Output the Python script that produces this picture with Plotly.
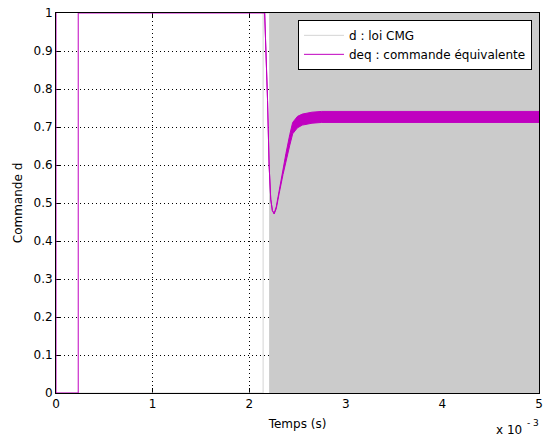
import plotly.graph_objects as go

# ---- data (time in ms, i.e. x 10^-3 s) ----
# d : loi CMG (before switching)
d_t = [0.0, 2.144, 2.144, 2.206]
d_v = [0.0, 0.0, 1.0, 1.0]
# d switching region (envelope of the fast 0/1 switching)
d_band_t = [2.206, 5.0]
d_band_low = [0.0, 0.0]
d_band_high = [1.0, 1.0]

# deq : commande équivalente (start)
deq_t = [0.0, 0.0, 0.23, 0.23, 2.16]
deq_v = [1.0, 0.0, 0.0, 1.0, 1.0]
# deq ripple envelope after 2.16 ms
env_up_t = [2.16, 2.175, 2.19, 2.206, 2.223, 2.24, 2.258, 2.28, 2.31, 2.35, 2.38, 2.42, 2.45, 2.50, 2.55, 2.65, 2.75, 3.5, 5.0]
env_up = [1.0, 0.90, 0.77, 0.60, 0.51, 0.48, 0.473, 0.49, 0.535, 0.59, 0.63, 0.68, 0.712, 0.728, 0.734, 0.739, 0.741, 0.741, 0.741]
env_lo_t = [2.16, 2.175, 2.19, 2.206, 2.223, 2.24, 2.258, 2.28, 2.31, 2.35, 2.38, 2.42, 2.45, 2.50, 2.55, 2.65, 2.75, 3.5, 5.0]
env_lo = [1.0, 0.90, 0.77, 0.60, 0.51, 0.48, 0.471, 0.485, 0.525, 0.575, 0.612, 0.652, 0.682, 0.698, 0.705, 0.710, 0.712, 0.712, 0.712]

x_ticks = [0, 1, 2, 3, 4, 5]
y_ticks = [0, 0.1, 0.2, 0.3, 0.4, 0.5, 0.6, 0.7, 0.8, 0.9, 1]

GRAY = "#cbcbcb"
MAG = "#c000c0"
FONT = "DejaVu Sans, Liberation Sans, Arial, sans-serif"

fig = go.Figure()

# d line
fig.add_trace(go.Scatter(x=d_t, y=d_v, mode="lines", name="d : loi CMG",
                         line=dict(color="#d4d4d4", width=1)))
# d switching band
fig.add_trace(go.Scatter(x=d_band_t, y=d_band_low, mode="lines",
                         line=dict(color=GRAY, width=1), showlegend=False, hoverinfo="skip"))
fig.add_trace(go.Scatter(x=d_band_t, y=d_band_high, mode="lines", fill="tonexty",
                         fillcolor=GRAY, line=dict(color=GRAY, width=1),
                         showlegend=False, hoverinfo="skip"))

# deq line
fig.add_trace(go.Scatter(x=deq_t, y=deq_v, mode="lines", name="deq : commande équivalente",
                         line=dict(color=MAG, width=1)))
# deq ripple band
fig.add_trace(go.Scatter(x=env_up_t + env_lo_t[::-1], y=env_up + env_lo[::-1],
                         mode="lines", fill="toself", fillcolor=MAG,
                         line=dict(color=MAG, width=1), showlegend=False, hoverinfo="skip"))

axis_common = dict(
    showline=True, linecolor="black", linewidth=1, mirror="ticks",
    ticks="inside", ticklen=5, tickcolor="black",
    showgrid=True, gridcolor="black", griddash="1px,3px", gridwidth=1,
    zeroline=False, layer="below traces", ticklabeloverflow="allow",
    tickfont=dict(family=FONT, size=12, color="black"),
)

fig.update_xaxes(range=[0, 5], tickvals=x_ticks, ticktext=[str(v) for v in x_ticks],
                 title=dict(text="Temps (s)", font=dict(family=FONT, size=12, color="black"), standoff=9),
                 **axis_common)
fig.update_yaxes(range=[0, 1], tickvals=y_ticks, ticktext=[("%g" % v) for v in y_ticks],
                 title=dict(text="Commande d", font=dict(family=FONT, size=12, color="black"), standoff=8),
                 **axis_common)

# exponent label "x 10^-3"
fig.add_annotation(x=1.0, y=0, xref="paper", yref="paper", xanchor="right", yanchor="middle",
                   xshift=-15, yshift=-37, showarrow=False,
                   text="x 10", font=dict(family=FONT, size=12, color="black"))
fig.add_annotation(x=1.0, y=0, xref="paper", yref="paper", xanchor="left", yanchor="middle",
                   xshift=-14, yshift=-30, showarrow=False,
                   text="- 3", font=dict(family=FONT, size=9, color="black"))

fig.update_layout(
    width=543, height=436,
    margin=dict(l=56, r=4, t=13, b=43, autoexpand=False),
    paper_bgcolor="white", plot_bgcolor="white",
    font=dict(family=FONT, size=12, color="black"),
    legend=dict(x=0.9855, y=0.982, xanchor="right", yanchor="top",
                bgcolor="white", bordercolor="black", borderwidth=1,
                font=dict(family=FONT, size=12, color="black"),
                traceorder="normal", tracegroupgap=0, itemwidth=40),
    showlegend=True,
)

fig.write_html(
    "out.html",
    config={"displayModeBar": False},
    post_script="document.body.style.margin='0';document.body.style.overflow='hidden';"
                "document.documentElement.style.overflow='hidden';",
)
